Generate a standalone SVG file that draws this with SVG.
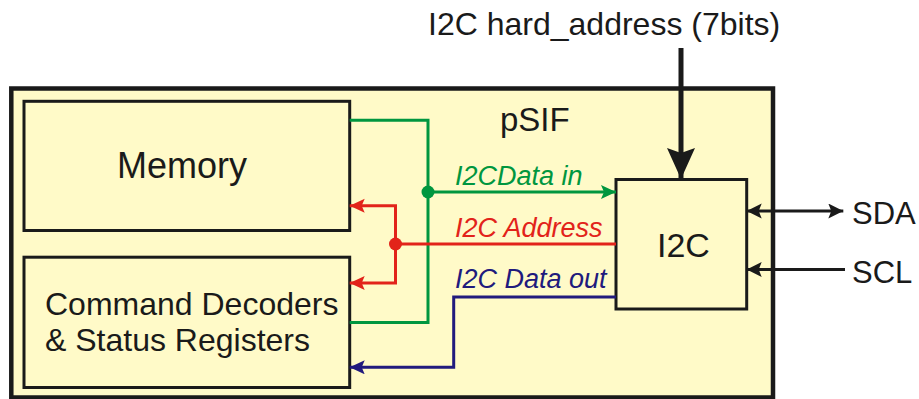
<svg xmlns="http://www.w3.org/2000/svg" width="919" height="399" viewBox="0 0 919 399">
<style>
  .box { fill: #fffac8; stroke: #1a1a1a; stroke-width: 3; }
  .outer { fill: #fffac8; stroke: #1a1a1a; stroke-width: 4.5; }
  .t { font-family: "Liberation Sans", Arial, sans-serif; fill: #1a1a1a; }
  .it { font-family: "Liberation Sans", Arial, sans-serif; font-style: italic; font-size: 27px; }
  .w { fill: none; stroke-width: 3; }
  .g { stroke: #00963f; }
  .r { stroke: #e2231a; }
  .b { stroke: #211a7d; }
  .k { stroke: #1a1a1a; }
</style>
<defs>
  <marker id="ag" markerUnits="userSpaceOnUse" markerWidth="16" markerHeight="16" refX="15" refY="7" orient="auto"><path d="M0,0 L15,7 L0,14 L3,7 z" fill="#00963f"/></marker>
  <marker id="ar" markerUnits="userSpaceOnUse" markerWidth="16" markerHeight="16" refX="15" refY="7" orient="auto"><path d="M0,0 L15,7 L0,14 L3,7 z" fill="#e2231a"/></marker>
  <marker id="ab" markerUnits="userSpaceOnUse" markerWidth="16" markerHeight="16" refX="15" refY="7" orient="auto"><path d="M0,0 L15,7 L0,14 L3,7 z" fill="#211a7d"/></marker>
  <marker id="ak" markerUnits="userSpaceOnUse" markerWidth="16" markerHeight="16" refX="15" refY="7.5" orient="auto-start-reverse"><path d="M0,0 L15,7.5 L0,15 L3,7.5 z" fill="#1a1a1a"/></marker>
  <marker id="abig" markerUnits="userSpaceOnUse" markerWidth="32" markerHeight="30" refX="31" refY="14" orient="auto"><path d="M0,0 L31,14 L0,28 L5,14 z" fill="#1a1a1a"/></marker>
</defs>

<g id="psif">
  <rect class="outer" x="11.3" y="88.5" width="761.7" height="309"/>
  <text class="t" x="500" y="131" font-size="33">pSIF</text>
</g>

<g id="memory">
  <rect class="box" x="24" y="101.3" width="325.7" height="129.2"/>
  <text class="t" x="117" y="178" font-size="36">Memory</text>
</g>

<g id="cmd">
  <rect class="box" x="24" y="257.2" width="325.7" height="130.3"/>
  <text class="t" x="45" y="315" font-size="32">Command Decoders</text>
  <text class="t" x="45" y="351" font-size="32">&amp; Status Registers</text>
</g>

<g id="i2c">
  <rect class="box" x="616" y="179.5" width="130.7" height="129.5"/>
  <text class="t" x="657" y="257" font-size="34">I2C</text>
</g>

<g id="hard-address">
  <text class="t" x="428" y="35" font-size="32">I2C hard_address (7bits)</text>
</g>

<g id="sda">
  <text class="t" x="852" y="224" font-size="31">SDA</text>
</g>
<g id="scl">
  <text class="t" x="852" y="283" font-size="31">SCL</text>
</g>

<g id="connectors">
  <!-- green data in bus -->
  <polyline class="w g" points="349.7,120.3 428,120.3 428,322.5 349.7,322.5"/>
  <line class="w g" x1="428" y1="192" x2="616" y2="192" marker-end="url(#ag)"/>
  <circle cx="428" cy="192" r="6.5" fill="#00963f"/>
  <!-- red address bus -->
  <line class="w r" x1="616" y1="244" x2="395.5" y2="244"/>
  <polyline class="w r" points="395.5,244 395.5,205.7 349.7,205.7" marker-end="url(#ar)"/>
  <polyline class="w r" points="395.5,244 395.5,283 349.7,283" marker-end="url(#ar)"/>
  <circle cx="395.5" cy="244" r="6.5" fill="#e2231a"/>
  <!-- blue data out -->
  <polyline class="w b" points="616,297 453.7,297 453.7,367.3 349.7,367.3" marker-end="url(#ab)"/>
  <!-- SDA / SCL -->
  <line class="w k" x1="746.7" y1="211" x2="843.3" y2="211" marker-start="url(#ak)" marker-end="url(#ak)"/>
  <line class="w k" x1="845" y1="269.5" x2="746.7" y2="269.5" marker-end="url(#ak)"/>
  <!-- hard address -->
  <line class="k" stroke-width="5" x1="681" y1="48" x2="681" y2="179" marker-end="url(#abig)"/>
  <!-- labels -->
  <text class="it" x="455" y="185" fill="#00963f">I2CData in</text>
  <text class="it" x="455" y="237" fill="#e2231a">I2C Address</text>
  <text class="it" x="455" y="288" fill="#211a7d">I2C Data out</text>
</g>
</svg>
